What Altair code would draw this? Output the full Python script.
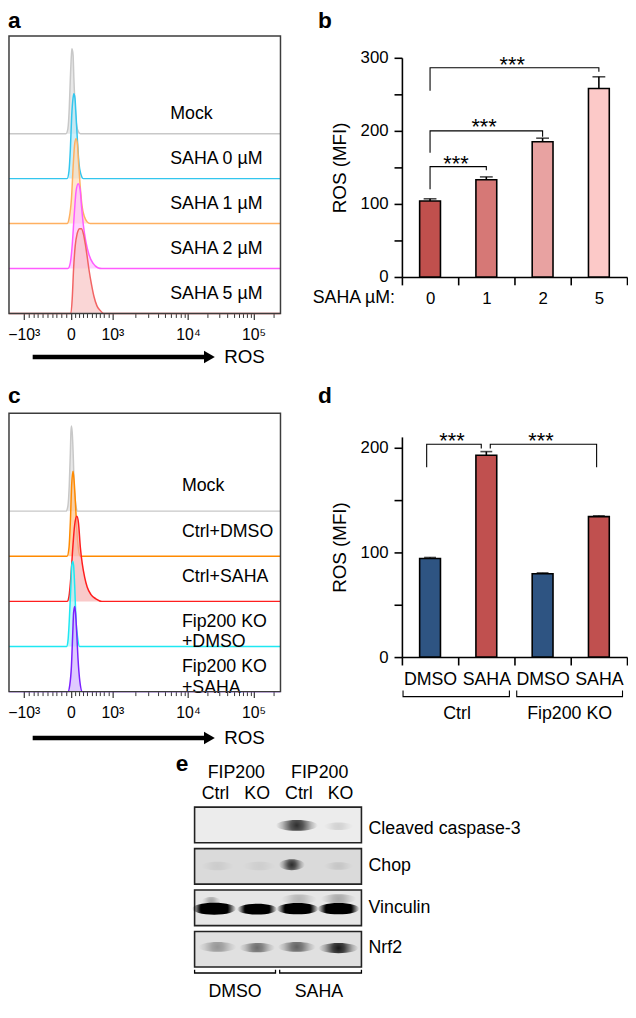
import math
import altair as alt
import pandas as pd

FONT = "Liberation Sans"
W, H = 628, 1000

# ---------------- panel a : flow histograms (x = display channel 0-1000, y = % of max) -------------
a_names = ["Mock", "SAHA 0 µM", "SAHA 1 µM", "SAHA 2 µM", "SAHA 5 µM"]
a_x = [
    [210, 217, 222, 226, 230, 232, 236, 239, 244, 249, 256, 263],
    [214, 221, 226, 231, 236, 239, 243, 247, 253, 258, 265, 274],
    [214, 222, 230, 237, 242, 247, 252, 256, 262, 269, 278, 288, 299],
    [217, 226, 233, 240, 247, 255, 262, 267, 274, 283, 295, 310, 327, 342],
    [228, 233, 238, 244, 251, 260, 267, 274, 281, 288, 295, 304, 313, 324, 335, 349],
]
a_y = [
    [0, 6, 30, 65, 93, 100, 93, 65, 30, 10, 2, 0],
    [0, 9, 34, 74, 95, 100, 95, 74, 40, 17, 5, 0],
    [0, 7, 29, 71, 94, 100, 94, 73, 45, 21, 8, 2, 0],
    [0, 7, 28, 62, 91, 100, 93, 74, 51, 32, 16, 6, 1, 0],
    [0, 18, 53, 80, 94, 100, 100, 94, 82, 67, 51, 34, 20, 9, 4, 0],
]
a_line = ["#c8c8c8", "#33c6ee", "#ffb060", "#ff5cff", "#f26464"]
a_fill = ["#dedede", "#b8e8f6", "#ffdcb8", "#ffc0ff", "#f8c4c4"]

# ---------------- panel c : flow histograms -------------
c_names = ["Mock", "Ctrl+DMSO", "Ctrl+SAHA", "Fip200 KO\n+DMSO", "Fip200 KO\n+SAHA"]
c_x = [
    [210, 217, 222, 226, 228, 230, 233, 237, 240, 246, 253],
    [214, 221, 226, 231, 236, 240, 246, 251, 256, 263],
    [214, 221, 228, 235, 242, 250, 256, 263, 270, 279, 288, 302, 320, 342],
    [212, 217, 222, 228, 231, 235, 238, 242, 247, 253, 260],
    [217, 224, 230, 235, 238, 242, 245, 249, 254, 261, 270],
]
c_y = [
    [0, 6, 30, 68, 92, 100, 92, 62, 30, 8, 0],
    [0, 10, 40, 85, 100, 88, 55, 25, 8, 0],
    [0, 6, 29, 63, 90, 100, 92, 63, 44, 28, 17, 8, 3, 0],
    [0, 6, 30, 71, 95, 100, 95, 71, 30, 10, 0],
    [0, 8, 30, 70, 93, 100, 93, 72, 40, 12, 0],
]
c_line = ["#c8c8c8", "#ff8a00", "#ff1e1e", "#1ee8f2", "#7b1fff"]
c_fill = ["#dedede", "#ffc48a", "#f7b2b2", "#aef2f6", "#d2b4ff"]

# flow axis ticks (ROS intensity values)
flow_major = [-1000, 0, 1000, 10000, 100000]
flow_major_txt = ["\u221210\u00b3", "0", "10\u00b3", "10\u2074", "10\u2075"]
flow_minor = ([-v for v in range(900, 0, -100)] + list(range(100, 1000, 100))
              + list(range(2000, 10000, 1000)) + list(range(20000, 100000, 10000)) + [200000])

# ---------------- panel b -------------
b_dose = ["0", "1", "2", "5"]
b_mean = [104, 133, 185, 258]
b_sem = [3, 4, 5, 16]
b_palette = ["#c0504d", "#d67876", "#e8a2a1", "#fcc9c8"]
b_br_x = [[0.5, 0.5, 1.5, 1.5], [0.5, 0.5, 2.5, 2.5], [0.5, 0.5, 3.5, 3.5]]
b_br_y = [[120, 151, 151, 146], [170, 200, 200, 192], [255, 286.5, 286.5, 281]]
b_star_x = [0.96, 1.46, 1.96]
b_star_y = [161, 212, 297]

# ---------------- panel d -------------
d_group = ["Ctrl", "Ctrl", "Fip200 KO", "Fip200 KO"]
d_treat = ["DMSO", "SAHA", "DMSO", "SAHA"]
d_mean = [94, 192.5, 79.5, 134]
d_sem = [1, 3.5, 0.8, 0.7]
d_palette = ["#2e5482", "#c0504f"]
d_br_x = [[0.44, 0.44, 1.41, 1.41], [1.57, 1.57, 3.46, 3.46]]
d_br_y = [[181, 203, 203, 199], [199, 203, 203, 181]]
d_star_x = [0.89, 2.47]
d_star_y = [211, 211]
d_grp_x = [[0.02, 0.02, 1.91, 1.91], [2.04, 2.04, 3.92, 3.92]]
d_grp_y = [[-32, -37.7, -37.7, -32], [-32, -37.7, -37.7, -32]]
d_grp_lab = ["Ctrl", "Fip200 KO"]
d_grp_lab_x = [0.98, 2.98]

# ---------------- panel e : western blot -------------
e_blots = ["Cleaved caspase-3", "Chop", "Vinculin", "Nrf2"]
e_blot_bg = ["#ececec", "#dadada", "#e6e6e6", "#e0e0e0"]
e_label_y = [0.52, 1.43, 2.43, 3.40]
e_head_txt = ["FIP200", "FIP200", "Ctrl", "KO", "Ctrl", "KO"]
e_head_x = [1.0, 3.0, 0.5, 1.5, 2.5, 3.5]
e_head_y = [-0.83, -0.83, -0.31, -0.31, -0.31, -0.31]
e_treat = ["DMSO", "SAHA"]
e_treat_x = [0.97, 2.98]
e_treat_br = [[0.0, 1.94], [2.04, 4.0]]
# bands: lane position, row position, width (lanes), intensity, style
e_band_x = [2.45, 3.45, 2.33, 0.55, 1.55, 3.45, 0.47, 1.50, 2.47, 3.45, 2.50, 3.45, 0.40, 0.55, 1.50, 2.45, 3.45]
e_band_y = [0.44, 0.46, 1.39, 1.42, 1.42, 1.42, 2.45, 2.46, 2.45, 2.45, 2.22, 2.21, 2.26, 3.37, 3.39, 3.37, 3.40]
e_band_w = [1.00, 0.70, 0.62, 0.80, 0.80, 0.70, 1.05, 0.95, 1.00, 1.00, 0.85, 0.85, 0.45, 0.90, 0.85, 0.90, 0.95]
e_band_i = [0.85, 0.12, 0.85, 0.07, 0.06, 0.10, 1.00, 1.00, 1.00, 1.00, 0.22, 0.28, 0.30, 0.35, 0.55, 0.60, 0.95]
e_band_k = ["wide", "wide", "round", "wide", "wide", "wide", "hard", "hard", "hard", "hard",
            "wide", "wide", "round", "wide", "wide", "wide", "wide"]

# =====================================================================================
ROW_STEP = 53
Y_TOP = 327


def flow_pos(v):
    p0, pm, p3, p4, p5 = 67.0, 18.3, 110.0, 188.3, 256.0
    if v < 0:
        p = p0 + v / 1000 * (p0 - pm)
    elif v <= 1000:
        p = p0 + v / 1000 * (p3 - p0)
    elif v <= 10000:
        p = p3 + math.log10(v / 1000) * (p4 - p3)
    else:
        p = p4 + math.log10(v / 10000) * (p5 - p4)
    return round((p - 3) * 1000 / 281, 2)


major_pos = [flow_pos(v) for v in flow_major]
minor_pos = [flow_pos(v) for v in flow_minor]
label_expr = "".join(f"abs(datum.value - {p}) < 0.05 ? '{t}' : " for p, t in zip(major_pos, flow_major_txt)) + "''"


def flow_panel(names, xs, ys, lcols, fcols, y_rng, axis_off, label_ch, label_lift):
    xsc = alt.Scale(domain=[0, 1000], range=[1, 276], nice=False, zero=False)
    ysc = alt.Scale(domain=[0, Y_TOP], range=y_rng, nice=False, zero=False)
    major_axis = alt.Axis(orient="bottom", offset=axis_off, values=major_pos, labelExpr=label_expr,
                          tickSize=6, tickWidth=1.2, tickColor="#333333", domain=False, grid=False,
                          labelFont=FONT, labelFontSize=16, labelColor="black", labelPadding=7,
                          labelFlush=False, labelOverlap=False, title=None)
    minor_axis = alt.Axis(orient="bottom", offset=axis_off, values=minor_pos, labels=False,
                          tickSize=4, tickWidth=1, tickColor="#333333", domain=False, grid=False, title=None)
    n = len(names)
    out = []
    for k in range(n):
        base = (n - 1 - k) * ROW_STEP
        df = pd.DataFrame({"ch": [0] + xs[k] + [1000], "pct": [0] + ys[k] + [0]})
        df["top"] = df["pct"] + base
        df["base"] = base
        ax = major_axis if k == 0 else None
        out.append(alt.Chart(df).mark_area(color=fcols[k], opacity=0.7, interpolate="monotone").encode(
            x=alt.X("ch:Q", scale=xsc, axis=ax), y=alt.Y("top:Q", scale=ysc, axis=None), y2="base:Q"))
        out.append(alt.Chart(df).mark_line(color=lcols[k], strokeWidth=1.5, interpolate="monotone").encode(
            x=alt.X("ch:Q", scale=xsc, axis=None), y=alt.Y("top:Q", scale=ysc, axis=None)))
    lab = pd.DataFrame({"t": names, "ch": [label_ch] * n,
                        "y": [(n - 1 - k) * ROW_STEP + label_lift for k in range(n)]})
    out.append(alt.Chart(lab).mark_text(align="left", baseline="middle", font=FONT, fontSize=18,
                                        lineBreak="\n", lineHeight=21, color="black").encode(
        x=alt.X("ch:Q", scale=xsc, axis=None), y=alt.Y("y:Q", scale=ysc, axis=None), text="t:N"))
    out.append(alt.Chart(pd.DataFrame({"x0": [0], "x1": [1000], "y0": [0], "y1": [Y_TOP]})).mark_rect(
        fillOpacity=0, stroke="#3c3c3c", strokeWidth=1.5).encode(
        x=alt.X("x0:Q", scale=xsc, axis=minor_axis), x2="x1:Q",
        y=alt.Y("y0:Q", scale=ysc, axis=None), y2="y1:Q"))
    return out


def y_axis(vals, step_lab, off):
    return alt.Axis(orient="left", offset=off, values=vals, labelExpr=f"datum.value % {step_lab} === 0 ? datum.label : ''",
                    tickSize=8, tickWidth=1.6, tickColor="black", domainWidth=1.6, domainColor="black",
                    labelFont=FONT, labelFontSize=17, labelColor="black", labelPadding=6, grid=False,
                    labelOverlap=False, labelFlush=False,
                    title="ROS (MFI)", titleFont=FONT, titleFontSize=19, titleFontWeight="normal",
                    titleColor="black", titlePadding=11)


def x_axis(off, expr, size, pad):
    return alt.Axis(orient="bottom", offset=off, tickBand="extent", tickSize=8, tickWidth=1.6, tickColor="black",
                    domainWidth=1.6, domainColor="black", labelFont=FONT, labelFontSize=size, labelColor="black",
                    labelPadding=pad, labelAngle=0, labelExpr=expr, labelOverlap=False, labelFlush=False,
                    grid=False, title=None)


def bracket_df(xs, ys):
    rows = []
    for i, (xx, yy) in enumerate(zip(xs, ys)):
        for o, (a, b) in enumerate(zip(xx, yy)):
            rows.append({"bid": i, "o": o, "bx": a, "by": b})
    return pd.DataFrame(rows)


layers = []

# ---- panel a & c ----
layers += flow_panel(a_names, a_x, a_y, a_line, a_fill, [303, 22], 303 - H, 594, 23)
layers += flow_panel(c_names, c_x, c_y, c_line, c_fill, [686, 404], 686 - H, 637, 29)

# ---- panel b ----
bx = alt.Scale(type="band", domain=b_dose, range=[399, 627], paddingInner=0, paddingOuter=0)
by = alt.Scale(domain=[0, 300], range=[266, 44], nice=False, zero=True)
b_df = pd.DataFrame({"dose": b_dose, "mean": b_mean, "hi": [m + s for m, s in zip(b_mean, b_sem)]})
layers.append(alt.Chart(b_df).mark_rule(color="black", strokeWidth=1.6).encode(
    x=alt.X("dose:N", scale=bx, axis=None), y=alt.Y("mean:Q", scale=by, axis=None), y2="hi:Q"))
layers.append(alt.Chart(b_df).mark_bar(width=alt.RelativeBandSize(0.37), stroke="black", strokeWidth=1.6).encode(
    x=alt.X("dose:N", scale=bx, axis=x_axis(266 - H, "datum.label", 17, 6)),
    y=alt.Y("mean:Q", scale=by, axis=y_axis([0, 50, 100, 150, 200, 250, 300], 100, -399)),
    color=alt.Color("dose:N", scale=alt.Scale(domain=b_dose, range=b_palette), legend=None)))
layers.append(alt.Chart(b_df).mark_tick(color="black", thickness=1.6, size=13, orient="horizontal").encode(
    x=alt.X("dose:N", scale=bx, axis=None), y=alt.Y("hi:Q", scale=by, axis=None)))

bqx = alt.Scale(domain=[0, 4], range=[399, 627], nice=False, zero=False)
bqy = alt.Scale(domain=[0, 300], range=[266, 44], nice=False, zero=False)
layers.append(alt.Chart(bracket_df(b_br_x, b_br_y)).mark_line(color="black", strokeWidth=1.1).encode(
    x=alt.X("bx:Q", scale=bqx, axis=None), y=alt.Y("by:Q", scale=bqy, axis=None),
    detail="bid:N", order="o:Q"))
layers.append(alt.Chart(pd.DataFrame({"x": b_star_x, "y": b_star_y, "t": ["***"] * 3})).mark_text(
    font=FONT, fontSize=22, baseline="alphabetic", dy=12, color="black").encode(
    x=alt.X("x:Q", scale=bqx, axis=None), y=alt.Y("y:Q", scale=bqy, axis=None), text="t:N"))

# ---- panel d ----
d_key = [g + " " + t for g, t in zip(d_group, d_treat)]
dx = alt.Scale(type="band", domain=d_key, range=[399, 627], paddingInner=0, paddingOuter=0)
dy = alt.Scale(domain=[0, 210], range=[651, 428], nice=False, zero=True)
d_df = pd.DataFrame({"key": d_key, "treat": d_treat, "mean": d_mean,
                     "hi": [m + s for m, s in zip(d_mean, d_sem)]})
layers.append(alt.Chart(d_df).mark_rule(color="black", strokeWidth=1.6).encode(
    x=alt.X("key:N", scale=dx, axis=None), y=alt.Y("mean:Q", scale=dy, axis=None), y2="hi:Q"))
layers.append(alt.Chart(d_df).mark_bar(width=alt.RelativeBandSize(0.37), stroke="black", strokeWidth=1.6).encode(
    x=alt.X("key:N", scale=dx, axis=x_axis(651 - H, "slice(datum.label, -4)", 18, 6)),
    y=alt.Y("mean:Q", scale=dy, axis=y_axis([0, 50, 100, 150, 200], 100, -399)),
    color=alt.Color("treat:N", scale=alt.Scale(domain=["DMSO", "SAHA"], range=d_palette), legend=None)))
layers.append(alt.Chart(d_df).mark_tick(color="black", thickness=1.6, size=12, orient="horizontal").encode(
    x=alt.X("key:N", scale=dx, axis=None), y=alt.Y("hi:Q", scale=dy, axis=None)))

dqx = alt.Scale(domain=[0, 4], range=[399, 627], nice=False, zero=False)
dqy = alt.Scale(domain=[0, 210], range=[651, 428], nice=False, zero=False)
layers.append(alt.Chart(bracket_df(d_br_x + d_grp_x, d_br_y + d_grp_y)).mark_line(color="black", strokeWidth=1.1).encode(
    x=alt.X("bx:Q", scale=dqx, axis=None), y=alt.Y("by:Q", scale=dqy, axis=None),
    detail="bid:N", order="o:Q"))
layers.append(alt.Chart(pd.DataFrame({"x": d_star_x, "y": d_star_y, "t": ["***"] * 2})).mark_text(
    font=FONT, fontSize=22, baseline="alphabetic", dy=12, color="black").encode(
    x=alt.X("x:Q", scale=dqx, axis=None), y=alt.Y("y:Q", scale=dqy, axis=None), text="t:N"))
layers.append(alt.Chart(pd.DataFrame({"x": d_grp_lab_x, "y": [-54, -54], "t": d_grp_lab})).mark_text(
    font=FONT, fontSize=18, baseline="middle", color="black").encode(
    x=alt.X("x:Q", scale=dqx, axis=None), y=alt.Y("y:Q", scale=dqy, axis=None), text="t:N"))

# ---- panel e ----
LANE_PX = 169 / 4
ex = alt.Scale(domain=[0, 4], range=[189, 358], nice=False, zero=False)
ey = alt.Scale(domain=[0, 4], range=[803, 971], nice=False, zero=False)
box_df = pd.DataFrame({"blot": e_blots, "x0": 0, "x1": 4,
                       "y0": list(range(4)), "y1": [k + 36 / 42 for k in range(4)]})
layers.append(alt.Chart(box_df).mark_rect(stroke="#222222", strokeWidth=1.6).encode(
    x=alt.X("x0:Q", scale=ex, axis=None), x2="x1:Q", y=alt.Y("y0:Q", scale=ey, axis=None), y2="y1:Q",
    color=alt.Color("blot:N", scale=alt.Scale(domain=e_blots, range=e_blot_bg), legend=None)))

band_df = pd.DataFrame({"x": e_band_x, "y": e_band_y, "op": e_band_i, "kind": e_band_k,
                        "sz": [(w * LANE_PX) ** 2 for w in e_band_w]})


def ellipse_path(ry):
    k = 0.5523
    a, b = k * ry, k
    return (f"M -1 0 C -1 {-a:.4f} {-b:.4f} {-ry} 0 {-ry} C {b:.4f} {-ry} 1 {-a:.4f} 1 0 "
            f"C 1 {a:.4f} {b:.4f} {ry} 0 {ry} C {-b:.4f} {ry} -1 {a:.4f} -1 0 Z")


def grad(stops):
    return {"gradient": "radial", "x1": 0.5, "y1": 0.5, "r1": 0, "x2": 0.5, "y2": 0.5, "r2": 0.5,
            "stops": [{"offset": o, "color": c} for o, c in stops]}


soft = grad([(0, "rgba(0,0,0,0.95)"), (0.3, "rgba(0,0,0,0.75)"), (0.7, "rgba(0,0,0,0.25)"), (1, "rgba(0,0,0,0)")])
hard = grad([(0, "rgba(0,0,0,1)"), (0.62, "rgba(0,0,0,1)"), (1, "rgba(0,0,0,0)")])
for kind, path, g in [("wide", ellipse_path(0.26), soft), ("round", ellipse_path(0.42), soft),
                      ("hard", ellipse_path(0.27), hard)]:
    layers.append(alt.Chart(band_df).transform_filter(alt.datum.kind == kind).mark_point(
        shape=path, filled=True, fill=g, strokeOpacity=0).encode(
        x=alt.X("x:Q", scale=ex, axis=None), y=alt.Y("y:Q", scale=ey, axis=None),
        size=alt.Size("sz:Q", scale=None), opacity=alt.Opacity("op:Q", scale=None)))

e_txt_df = pd.DataFrame({"t": e_head_txt + e_treat, "x": e_head_x + e_treat_x,
                         "y": e_head_y + [4.45, 4.45]})
layers.append(alt.Chart(e_txt_df).mark_text(font=FONT, fontSize=18, baseline="middle", color="black").encode(
    x=alt.X("x:Q", scale=ex, axis=None), y=alt.Y("y:Q", scale=ey, axis=None), text="t:N"))
layers.append(alt.Chart(pd.DataFrame({"t": e_blots, "x": [4.17] * 4, "y": e_label_y})).mark_text(
    font=FONT, fontSize=18, baseline="middle", align="left", color="black").encode(
    x=alt.X("x:Q", scale=ex, axis=None), y=alt.Y("y:Q", scale=ey, axis=None), text="t:N"))
layers.append(alt.Chart(bracket_df([[a, a, b, b] for a, b in e_treat_br], [[3.92, 4.0, 4.0, 3.92]] * 2)).mark_line(
    color="black", strokeWidth=1.3).encode(
    x=alt.X("bx:Q", scale=ex, axis=None), y=alt.Y("by:Q", scale=ey, axis=None), detail="bid:N", order="o:Q"))

# ---- decorations: panel letters, ROS arrows, SAHA label ----
one = pd.DataFrame({"d": [0]})
for t, x, y in [("a", 0, 14), ("b", 314, 14), ("c", 0, 394), ("d", 314, 394), ("e", 170, 766)]:
    layers.append(alt.Chart(one).mark_text(text=t, align="left", baseline="alphabetic", font=FONT,
                                           fontSize=23, fontWeight="bold", color="black").encode(
        x=alt.value(x), y=alt.value(y)))
for yy in [347, 733]:
    layers.append(alt.Chart(one).mark_rule(color="black", strokeWidth=4.5).encode(
        x=alt.value(25), x2=alt.value(200), y=alt.value(yy)))
    layers.append(alt.Chart(one).mark_point(shape="triangle-right", filled=True, size=160, color="black",
                                            opacity=1).encode(x=alt.value(204), y=alt.value(yy)))
    layers.append(alt.Chart(one).mark_text(text="ROS", align="left", baseline="middle", font=FONT,
                                           fontSize=19, color="black").encode(x=alt.value(219), y=alt.value(yy)))
layers.append(alt.Chart(one).mark_text(text="SAHA µM:", align="right", baseline="middle", font=FONT,
                                       fontSize=18, color="black").encode(x=alt.value(392), y=alt.value(287)))

chart = alt.layer(*layers).resolve_scale(
    x="independent", y="independent", color="independent"
).properties(
    width=W, height=H, autosize=alt.AutoSizeParams(type="none"), padding=0, background="white"
).configure_view(stroke=None)

chart.save("out.html", embed_options={"renderer": "svg", "actions": False})
